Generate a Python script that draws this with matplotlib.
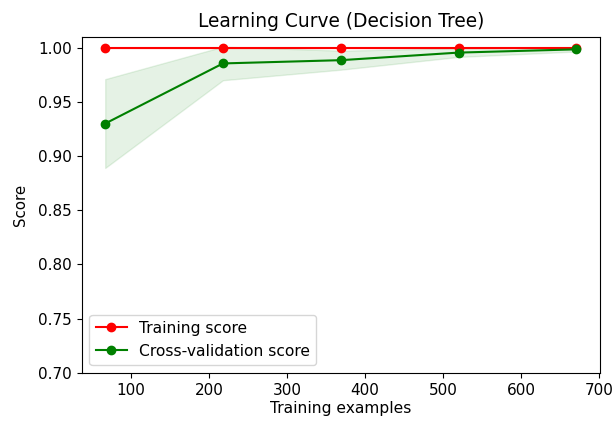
import numpy as np
import matplotlib
matplotlib.use("Agg")
import matplotlib.pyplot as plt

train_sizes = [67, 218, 369, 520, 671]
train_mean = [1.0, 1.0, 1.0, 1.0, 1.0]
train_std = [0.0, 0.0, 0.0, 0.0, 0.0]
test_mean = [0.930, 0.9855, 0.9885, 0.9955, 0.9985]
test_std = [0.041, 0.0155, 0.0088, 0.004, 0.002]

tm = np.array(train_mean); ts = np.array(train_std)
vm = np.array(test_mean); vs = np.array(test_std)

fig = plt.figure(figsize=(6.14, 4.24), dpi=100)
ax = fig.add_axes([0.133, 0.121, 0.844, 0.792])
ax.set_title("Learning Curve (Decision Tree)", fontsize=13.4, pad=7)
ax.set_ylim(0.7, 1.01)
ax.set_xlabel("Training examples", fontsize=11.2, labelpad=2)
ax.set_ylabel("Score", fontsize=10.8, labelpad=7)
ax.tick_params(labelsize=11)
ax.tick_params(axis='x', pad=4)
ax.fill_between(train_sizes, tm - ts, tm + ts, alpha=0.1, color="r")
ax.fill_between(train_sizes, vm - vs, vm + vs, alpha=0.1, color="g")
ax.plot(train_sizes, tm, 'o-', color="r", label="Training score")
ax.plot(train_sizes, vm, 'o-', color="g", label="Cross-validation score")
ax.legend(loc="best", fontsize=11.2)
fig.savefig("out.png", dpi=100)
